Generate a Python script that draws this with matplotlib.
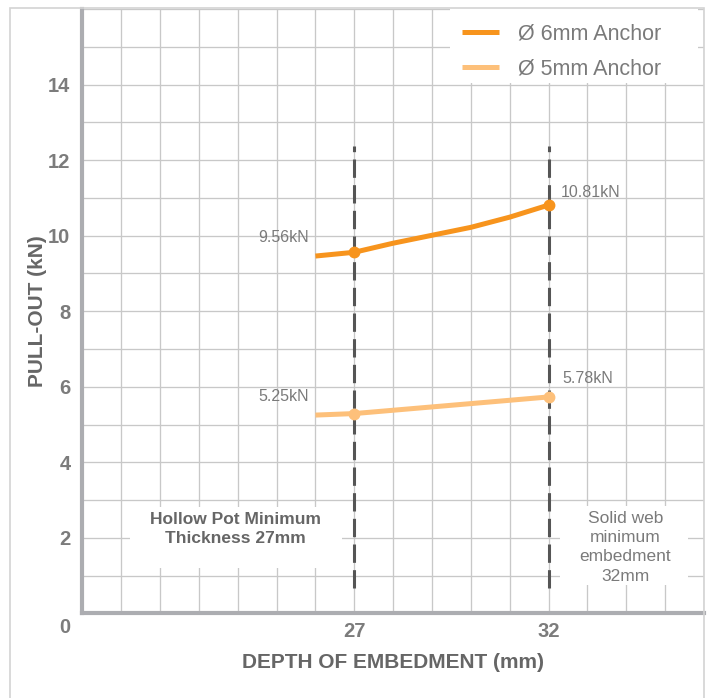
import matplotlib
matplotlib.use("Agg")
import matplotlib.pyplot as plt
from matplotlib.patches import Rectangle
from matplotlib.transforms import ScaledTranslation

# ---------------- data ----------------
depth_6mm = [26, 27, 28, 29, 30, 31, 32]
pull_6mm = [9.46, 9.56, 9.80, 10.01, 10.22, 10.49, 10.81]
depth_5mm = [26, 27, 32]
pull_5mm = [5.25, 5.29, 5.73]
series_names = ["Ø 6mm Anchor", "Ø 5mm Anchor"]
marked_depths = [27, 32]
label_6mm = ["9.56kN", "10.81kN"]
label_5mm = ["5.25kN", "5.78kN"]
x_ticks = [27, 32]
y_ticks = [0, 2, 4, 6, 8, 10, 12, 14]
x_limits = [20, 36]
y_limits = [0, 16]
limit_depths = [27, 32]
limit_range = [0.67, 12.37]
note_hollow = "Hollow Pot Minimum\nThickness 27mm"
note_solid = "Solid web\nminimum\nembedment\n32mm"

# ---------------- style ----------------
plt.rcParams['font.family'] = ['Liberation Sans', 'DejaVu Sans']
ORANGE = "#f7941d"
LIGHT = "#fdc07a"
GRID = "#c8c8c8"
SPINE = "#acadb1"
TICKC = "#7c7c7c"
LABELC = "#666666"
TXT = "#7a7a7a"

W, H = 707, 698
AX_L, AX_R, AX_B, AX_T = 82.3, 704, 613.4, 9
fig = plt.figure(figsize=(W / 100, H / 100), dpi=100)
ax = fig.add_axes([AX_L / W, 1 - AX_B / H, (AX_R - AX_L) / W, (AX_B - AX_T) / H])
AW, AH = AX_R - AX_L, AX_B - AX_T

# outer frame
fig.patches.append(Rectangle((10 / W, -0.02), (704 - 10) / W, 1.02 - 8 / H,
                             transform=fig.transFigure, fill=False,
                             edgecolor="#d3d3d3", linewidth=1.2, zorder=0))

ax.set_xlim(*x_limits)
ax.set_ylim(*y_limits)

# grid: every unit
ax.set_xticks(range(x_limits[0], x_limits[1] + 1), minor=True)
ax.set_yticks(range(y_limits[0], y_limits[1] + 1), minor=True)
ax.set_xticks(x_ticks)
ax.set_yticks(y_ticks)
ax.grid(True, which='both', color=GRID, linewidth=0.95, zorder=0)
ax.set_axisbelow(True)
ax.tick_params(which='both', length=0)
ax.tick_params(axis='x', pad=6, labelsize=14.5, labelcolor=TICKC)
ax.tick_params(axis='y', pad=8.5, labelsize=14.5, labelcolor=TICKC)
for lab in ax.get_xticklabels() + ax.get_yticklabels():
    lab.set_fontweight('bold')
# shift the "0" label down into the corner
zero_label = ax.get_yticklabels()[0]
zero_label.set_transform(zero_label.get_transform() +
                         ScaledTranslation(0, -12 / 100, fig.dpi_scale_trans))

for s in ['top', 'right']:
    ax.spines[s].set_visible(False)
for s in ['left', 'bottom']:
    ax.spines[s].set_color(SPINE)
    ax.spines[s].set_linewidth(3.0)
    ax.spines[s].set_capstyle('projecting')

# annotation boxes
ax.add_patch(Rectangle((21.23, 1.20), 26.68 - 21.23, 2.81 - 1.20, facecolor='white',
                       edgecolor='none', zorder=1))
ax.add_patch(Rectangle((32.30, 0.75), 35.59 - 32.30, 2.84 - 0.75, facecolor='white',
                       edgecolor='none', zorder=1))
ax.text(23.95, 2.23, note_hollow, ha='center', va='center', fontsize=12.5, fontweight='bold',
        color=LABELC, linespacing=1.32, zorder=2)
ax.text(33.98, 1.75, note_solid, ha='center', va='center', fontsize=12.5,
        color=TXT, linespacing=1.36, zorder=2)

# dashed limit lines
for d in limit_depths:
    ax.plot([d, d], limit_range, color="#555555", linewidth=2.2, dashes=(6, 2.4), zorder=3)

# series
mk6 = [depth_6mm.index(d) for d in marked_depths]
mk5 = [depth_5mm.index(d) for d in marked_depths]
ax.plot(depth_6mm, pull_6mm, color=ORANGE, linewidth=3.6, marker='o', markersize=7.5,
        markevery=mk6, label=series_names[0], zorder=4, solid_capstyle='butt',
        solid_joinstyle='round')
ax.plot(depth_5mm, pull_5mm, color=LIGHT, linewidth=3.6, marker='o', markersize=7.5,
        markevery=mk5, label=series_names[1], zorder=4, solid_capstyle='butt',
        solid_joinstyle='round')

# value labels
offsets = [(-71, 15), (42, 13)]
for i, d in enumerate(marked_depths):
    ax.annotate(label_6mm[i], (d, pull_6mm[depth_6mm.index(d)]), textcoords='offset pixels',
                xytext=offsets[i], ha='center', va='center', fontsize=11.5, color=TXT, zorder=5)
offsets5 = [(-71, 17), (39, 18)]
for i, d in enumerate(marked_depths):
    ax.annotate(label_5mm[i], (d, pull_5mm[depth_5mm.index(d)]), textcoords='offset pixels',
                xytext=offsets5[i], ha='center', va='center', fontsize=11.5, color=TXT, zorder=5)

# legend background box + legend
ax.add_patch(Rectangle(((450 - AX_L) / AW, 1 - (83 - AX_T) / AH), (698 - 450) / AW,
                       (83 - AX_T) / AH, transform=ax.transAxes, facecolor='white',
                       edgecolor='none', zorder=5.5, clip_on=False))
leg = ax.legend(loc='upper left', bbox_to_anchor=((451 - AX_L) / AW, 1 - 4 / AH),
                borderaxespad=0, frameon=False, fontsize=15.5, handlelength=1.72,
                handletextpad=0.88, labelspacing=0.62, borderpad=0.5)
for t in leg.get_texts():
    t.set_color(TXT)
for h in leg.get_lines():
    h.set_marker('')
    h.set_linewidth(3.6)
leg.set_zorder(6)

# axis labels
ax.set_xlabel("DEPTH OF EMBEDMENT (mm)", fontsize=15, fontweight='bold', color=LABELC)
ax.set_ylabel("PULL-OUT (kN)", fontsize=15, fontweight='bold', color=LABELC)
ax.xaxis.set_label_coords(0.5, -0.066)
ax.yaxis.set_label_coords(-0.057, 0.5)

fig.savefig("out.png", dpi=100)
